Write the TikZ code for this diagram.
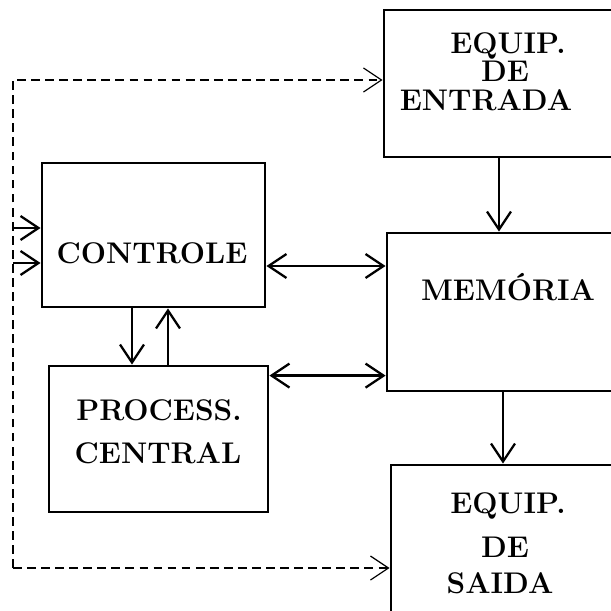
\documentclass[tikz,border=0pt]{standalone}
\usetikzlibrary{arrows.meta}
\newcommand{\boxfont}{\fontsize{17}{20}\selectfont\bfseries}

\begin{document}
\begin{tikzpicture}[x=1cm,y=1cm,font=\boxfont,line width=1.3pt,
  unit/.style={draw,line width=1.6pt,inner sep=0pt},
  flow/.style={-{Straight Barb[length=3.6mm,width=4.8mm]}},
  duplex/.style={{Straight Barb[length=3.6mm,width=4.8mm]}-{Straight Barb[length=3.6mm,width=4.8mm]}},
  feed/.style={flow,line width=0.7pt,dash pattern=on 5pt off 3pt}]
\useasboundingbox (0,0) rectangle (12.22,12.20);
\clip (0,0) rectangle (12.22,12.20);

\node[unit,minimum width=4.60cm,minimum height=2.94cm] (entrada) at (9.98,10.53) {};
\node[unit,minimum width=4.46cm,minimum height=2.88cm] (controle) at (3.07,7.50) {};
\node[unit,minimum width=4.64cm,minimum height=3.16cm] (memoria) at (10.06,5.96) {};
\node[unit,minimum width=4.38cm,minimum height=2.92cm] (process) at (3.17,3.42) {};
\node[unit,minimum width=4.58cm,minimum height=3.30cm] (saida) at (10.11,1.25) {};

\node[anchor=base] (entrada-l1) at (10.16,11.14) {EQUIP.};
\node[anchor=base] (entrada-l2) at (10.10,10.58) {DE};
\node[anchor=base] (entrada-l3) at (9.72,10.00) {ENTRADA};
\node[anchor=base] (controle-l1) at (3.04,6.94) {CONTROLE};
\node[anchor=base] (memoria-l1) at (10.16,6.20) {MEMÓRIA};
\node[anchor=base] (process-l1) at (3.18,3.80) {PROCESS.};
\node[anchor=base] (process-l2) at (3.16,2.94) {CENTRAL};
\node[anchor=base] (saida-l1) at (10.16,1.94) {EQUIP.};
\node[anchor=base] (saida-l2) at (10.10,1.06) {DE};
\node[anchor=base] (saida-l3) at (10.00,0.34) {SAIDA};

\draw[flow] (entrada.south) -- (entrada.south |- memoria.north);
\draw[flow] (memoria.south) -- (memoria.south |- saida.north);

\coordinate (ctl-mem) at ([yshift=-6.2mm]controle.east);
\draw[duplex] (ctl-mem) -- (ctl-mem -| memoria.west);
\coordinate (prc-mem) at ([yshift=-2.2mm]process.north east);
\draw[duplex] (prc-mem) -- (prc-mem -| memoria.west);

\coordinate (ctl-down) at ([xshift=-4.3mm]controle.south);
\draw[flow] (ctl-down) -- (ctl-down |- process.north);
\coordinate (ctl-up) at ([xshift=2.9mm]controle.south);
\draw[flow] (ctl-up |- process.north) -- (ctl-up);

\coordinate (loop-top) at (0.26,10.60);
\coordinate (loop-bot) at (0.26,0.84);
\coordinate (ctl-in1) at ([yshift=1.4mm]controle.west);
\coordinate (ctl-in2) at ([yshift=-5.6mm]controle.west);
\draw[flow] (ctl-in1 -| loop-top) -- (ctl-in1);
\draw[flow] (ctl-in2 -| loop-top) -- (ctl-in2);
\draw[feed] (loop-bot) -- (loop-top) -- (loop-top -| entrada.west);
\draw[feed] (loop-bot) -- (loop-bot -| saida.west);
\end{tikzpicture}
\end{document}
